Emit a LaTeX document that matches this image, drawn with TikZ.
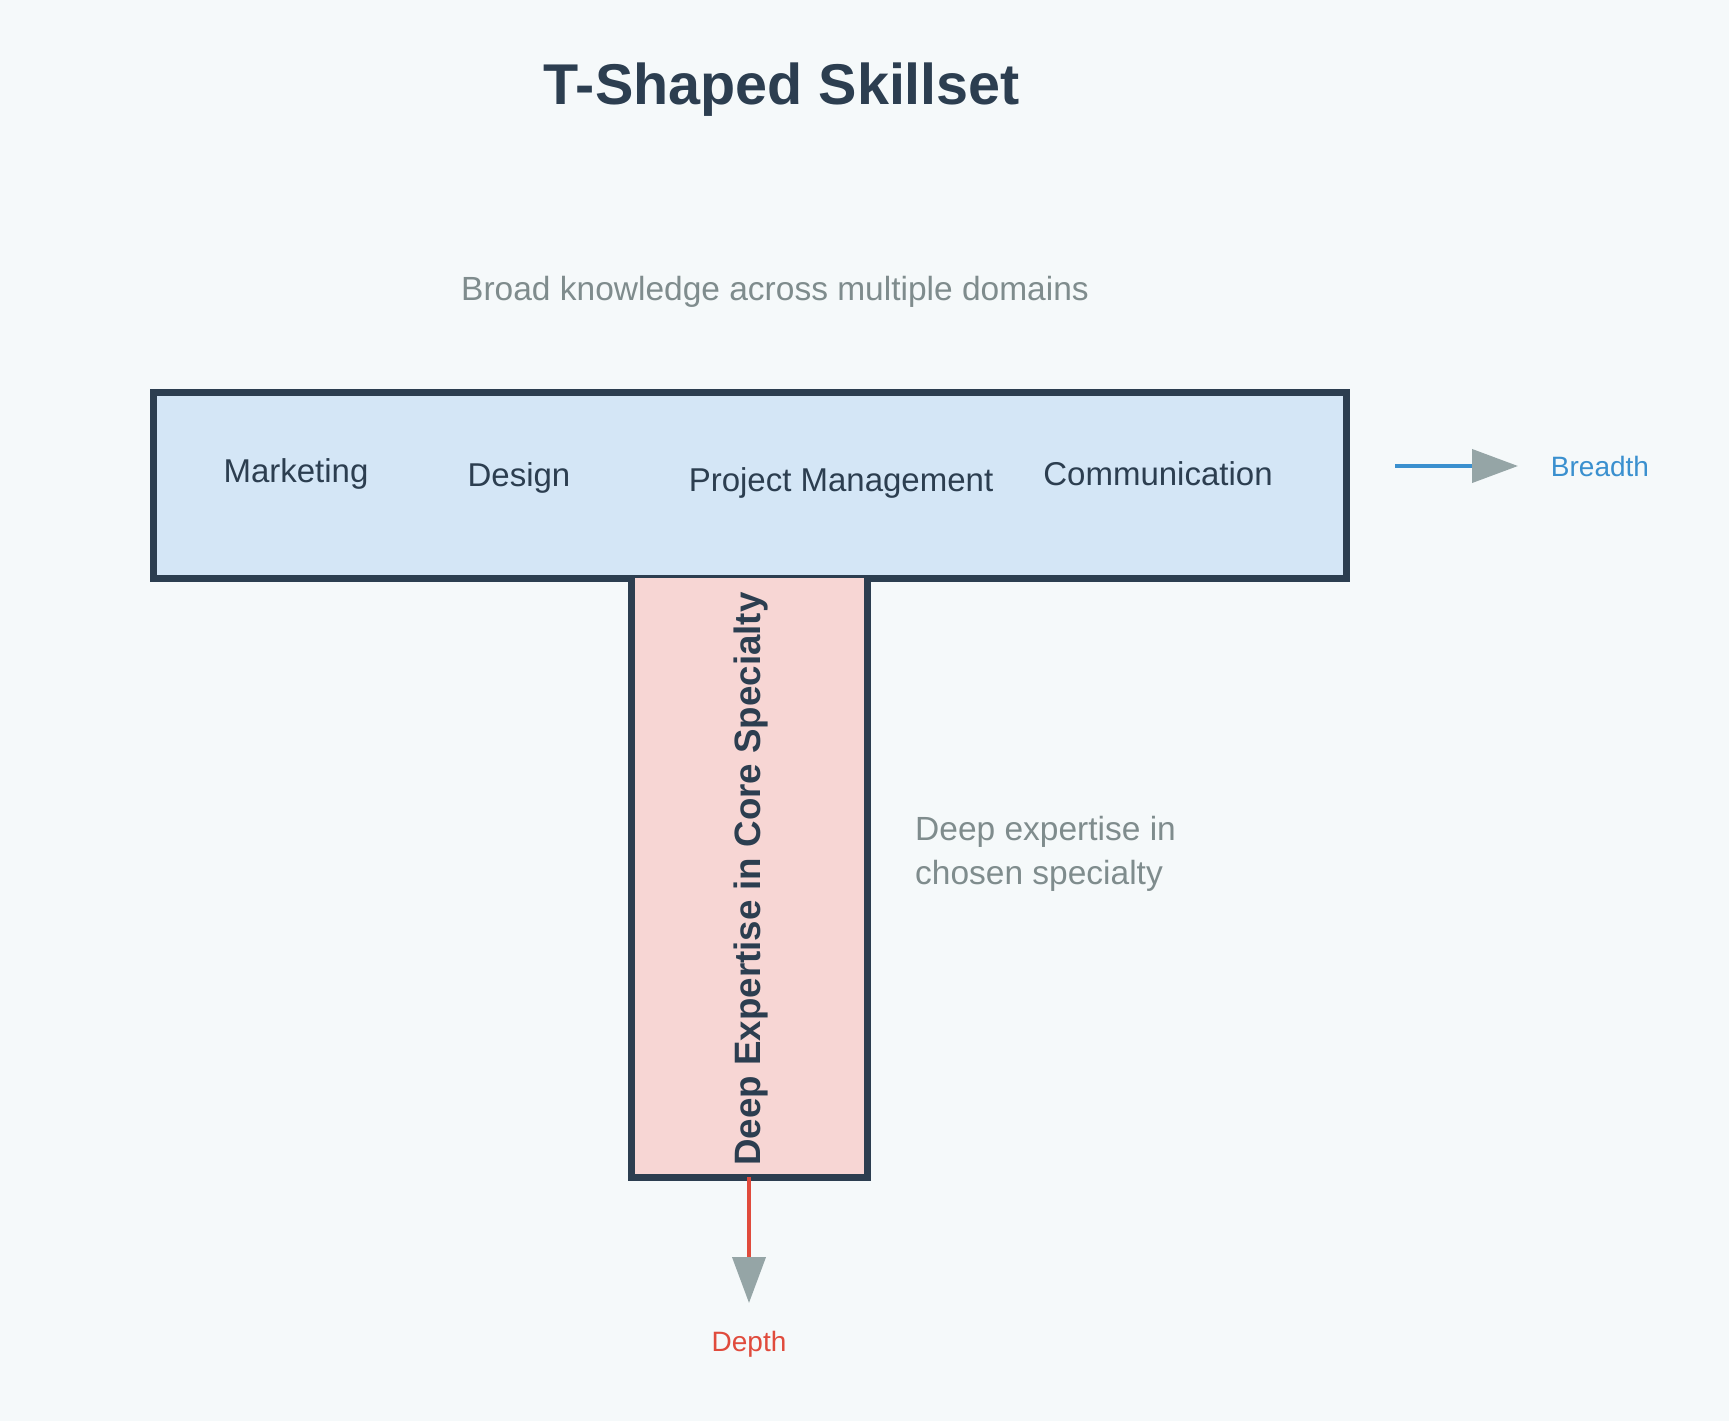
\documentclass[tikz,border=0pt]{standalone}
\usepackage{fontspec}
\setmainfont{Liberation Sans}
\usetikzlibrary{arrows.meta}
\definecolor{bgc}{HTML}{F5F9FA}
\definecolor{dark}{HTML}{2C3E50}
\definecolor{grayt}{HTML}{7F8C8D}
\definecolor{bluef}{HTML}{D4E6F6}
\definecolor{pinkf}{HTML}{F7D6D4}
\definecolor{bluel}{HTML}{3A90CF}
\definecolor{redl}{HTML}{E04B3C}
\definecolor{headg}{HTML}{95A5A6}
\begin{document}
\begin{tikzpicture}[x=1pt,y=-1pt,
  border/.style={draw=dark,line width=7pt,line join=miter},
  skill/.style={font=\fontsize{33}{40}\selectfont,text=dark,anchor=base,inner sep=0pt},
  note/.style={font=\fontsize{33.5}{44}\selectfont,text=grayt,inner sep=0pt},
  headtip/.style={-{Triangle[length=46pt,width=33pt,color=headg,fill=headg]}}
]
\fill[bgc] (0,0) rectangle (1729,1421);
% title
\node[font=\fontsize{57.5}{64}\selectfont\bfseries,text=dark,anchor=base,inner sep=0pt] (title) at (782,104) {T-Shaped Skillset};
\node[note,anchor=base] (sub) at (775,300) {Broad knowledge across multiple domains};
% horizontal bar
\node[border,fill=bluef,minimum width=1193pt,minimum height=186pt,inner sep=0pt] (hbar) at (749.5,485) {};
% vertical bar
\node[fill=pinkf,minimum width=236pt,minimum height=599pt,inner sep=0pt,outer sep=0pt] (vbar) at (749,877.5) {};
\draw[border] (vbar.north west) -- (vbar.south west) -- (vbar.south east) -- (vbar.north east);
\node[font=\fontsize{36.7}{40}\selectfont\bfseries,text=dark,rotate=90,inner sep=0pt] (vtext) at (751,879) {Deep Expertise in Core Specialty};
% skills
\node[skill] (mkt) at (296,482) {Marketing};
\node[skill] (des) at (519,486) {Design};
\node[skill] (pm) at (841,491) {Project Management};
\node[skill] (com) at (1158,485) {Communication};
% side note
\node[note,anchor=base west,align=left] (deep) at (915,884) {Deep expertise in\\chosen specialty};
% breadth arrow
\coordinate (bstart) at (1395,466);
\coordinate (btip) at (1518,466);
\draw[headtip,draw=bluel,line width=4pt] (bstart) -- (btip);
\node[font=\fontsize{28}{32}\selectfont,text=bluel,anchor=base,inner sep=0pt] (breadth) at (1600,476) {Breadth};
% depth arrow
\coordinate (dtip) at (749,1303);
\draw[headtip,draw=redl,line width=4pt] (vbar.south) -- (dtip);
\node[font=\fontsize{28}{32}\selectfont,text=redl,anchor=base,inner sep=0pt] (depth) at (749,1351) {Depth};
\end{tikzpicture}
\end{document}
